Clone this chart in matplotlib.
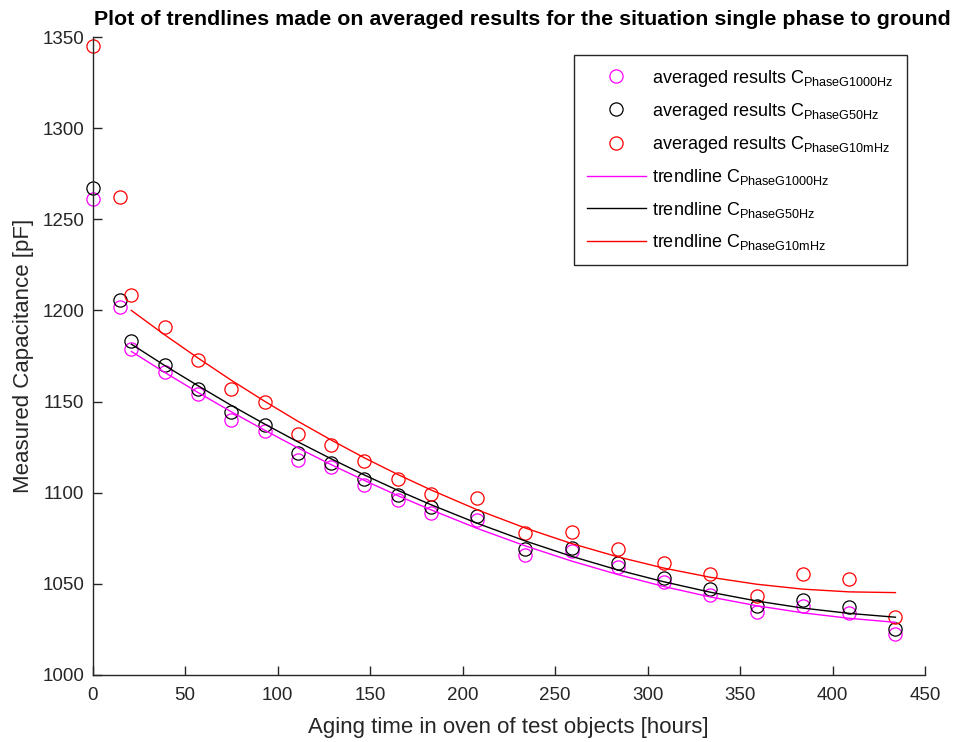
import matplotlib
matplotlib.use("Agg")
import matplotlib.pyplot as plt

plt.rcParams['font.family'] = ['Liberation Sans', 'DejaVu Sans']
plt.rcParams['mathtext.fontset'] = 'custom'
plt.rcParams['mathtext.rm'] = 'Liberation Sans'
plt.rcParams['mathtext.it'] = 'Liberation Sans:italic'
plt.rcParams['mathtext.bf'] = 'Liberation Sans:bold'

# ---- data ----
hours = [0, 15, 21, 39, 57, 75, 93, 111, 129, 147, 165, 183, 208, 234, 259, 284, 309, 334, 359, 384, 409, 434]

c_1000hz = [1261, 1202, 1179, 1166, 1154, 1140, 1134, 1118, 1114, 1104, 1096, 1089,
            1085, 1066, 1068, 1059, 1051, 1044, 1034.5, 1038, 1034, 1022.5]
c_50hz = [1267, 1206, 1183, 1170, 1157, 1144.5, 1137, 1122, 1116.5, 1107.5, 1098.5, 1092,
          1087.5, 1069.2, 1069.5, 1061.3, 1053.4, 1047, 1038, 1041, 1037.5, 1025]
c_10mhz = [1345, 1262.5, 1208.5, 1191, 1173, 1157, 1150, 1132.3, 1126, 1117.6, 1107.6, 1099.2,
           1097, 1077.8, 1078.7, 1069.2, 1061.3, 1055.3, 1043.5, 1055.3, 1052.5, 1032]

trend_hours = [21, 39, 57, 75, 93, 111, 129, 147, 165, 183, 208, 234, 259, 284, 309, 334, 359, 384, 409, 434]
trend_1000hz = [1177.5, 1166.0, 1155.0, 1144.4, 1134.3, 1124.6, 1115.4, 1106.7, 1098.4, 1090.6,
                1080.4, 1070.8, 1062.5, 1055.1, 1048.5, 1042.8, 1038.0, 1034.1, 1031.1, 1028.9]
trend_50hz = [1181.5, 1169.8, 1158.7, 1147.9, 1137.7, 1127.9, 1118.6, 1109.7, 1101.3, 1093.4,
              1083.2, 1073.5, 1065.1, 1057.6, 1051.1, 1045.4, 1040.6, 1036.7, 1033.8, 1031.7]
trend_10mhz = [1200.0, 1186.6, 1173.9, 1161.7, 1150.2, 1139.2, 1128.9, 1119.1, 1110.0, 1101.5,
               1090.6, 1080.6, 1072.1, 1064.8, 1058.6, 1053.6, 1049.8, 1047.1, 1045.6, 1045.2]

x_ticks = [0, 50, 100, 150, 200, 250, 300, 350, 400, 450]
y_ticks = [1000, 1050, 1100, 1150, 1200, 1250, 1300, 1350]

labels_avg = [r'averaged results C$_{\mathrm{PhaseG1000Hz}}$',
              r'averaged results C$_{\mathrm{PhaseG50Hz}}$',
              r'averaged results C$_{\mathrm{PhaseG10mHz}}$']
labels_trend = [r'trendline C$_{\mathrm{PhaseG1000Hz}}$',
                r'trendline C$_{\mathrm{PhaseG50Hz}}$',
                r'trendline C$_{\mathrm{PhaseG10mHz}}$']

colors = ['#FF00FF', '#000000', '#FF0000']

fig = plt.figure(figsize=(9.57, 7.42), dpi=100)
ax = fig.add_axes([0.0967, 0.0903, 0.8699, 0.8598])

for ys, col, lab in zip([c_1000hz, c_50hz, c_10mhz], colors, labels_avg):
    ax.plot(hours, ys, linestyle='none', marker='o', markersize=9.5,
            markerfacecolor='none', markeredgecolor=col, markeredgewidth=0.9,
            label=lab, clip_on=False)

for ys, col, lab in zip([trend_1000hz, trend_50hz, trend_10mhz], colors, labels_trend):
    ax.plot(trend_hours, ys, color=col, linewidth=1.0, label=lab)

ax.set_xlim(0, 450)
ax.set_ylim(1000, 1350)
ax.set_xticks(x_ticks)
ax.set_yticks(y_ticks)

for s in ['top', 'right']:
    ax.spines[s].set_visible(False)
for s in ['left', 'bottom']:
    ax.spines[s].set_color('#262626')
    ax.spines[s].set_linewidth(1.0)
ax.tick_params(direction='in', length=6.5, width=1.0, colors='#262626',
               labelsize=13.5, labelcolor='#262626')
ax.tick_params(axis='x', pad=9)
ax.tick_params(axis='y', pad=6)

ax.set_xlabel('Aging time in oven of test objects [hours]', fontsize=16, color='#262626', labelpad=9)
ax.set_ylabel('Measured Capacitance [pF]', fontsize=16, color='#262626', labelpad=6)
ax.set_title('Plot of trendlines made on averaged results for the situation single phase to ground',
             fontsize=15.4, fontweight='bold', color='black', pad=9, x=0.5165)

leg = ax.legend(loc='upper right', bbox_to_anchor=(0.978, 0.972), borderaxespad=0,
                fontsize=13, fancybox=False, framealpha=1, edgecolor='#262626',
                handlelength=3.3, labelspacing=0.68, borderpad=0.7, handletextpad=0.35)
leg.get_frame().set_linewidth(1.0)

fig.savefig('out.png', dpi=100)
